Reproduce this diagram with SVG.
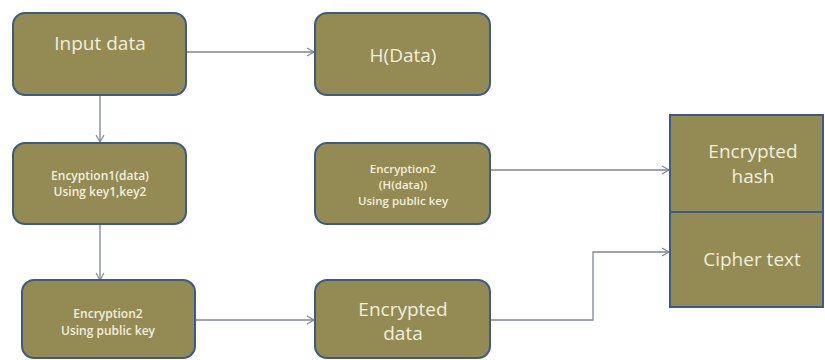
<svg xmlns="http://www.w3.org/2000/svg" width="825" height="360" viewBox="0 0 825 360">
<defs>
<marker id="arr" markerWidth="10" markerHeight="10" refX="8" refY="5" orient="auto" markerUnits="userSpaceOnUse">
<path d="M1,1 L8,5 L1,9" fill="none" stroke="#7d8596" stroke-width="1.2"/>
</marker>
<style>
.box{fill:#948a54;stroke:#3b5a84;stroke-width:2}
.t{font-family:"Open Sans","Liberation Sans",sans-serif;fill:#f2efdc;text-anchor:middle}
.big{font-size:19px}
.sm{font-size:12px;font-weight:600}
.xs{font-size:11.5px;font-weight:600}
.c{fill:none;stroke:#7d8596;stroke-width:1.3;marker-end:url(#arr)}
</style>
</defs>
<rect width="825" height="360" fill="#ffffff"/>
<g id="connectors">
<path class="c" d="M187,52 H314"/>
<path class="c" d="M100,95 V142"/>
<path class="c" d="M100,224 V280"/>
<path class="c" d="M195,320 H314"/>
<path class="c" d="M490,170 H669"/>
<path class="c" d="M490,320 H593 V252 H669"/>
</g>
<g id="input-data">
<rect class="box" x="13" y="13" width="173" height="82" rx="12"/>
<text class="t big" x="100" y="50">Input data</text>
</g>
<g id="h-data">
<rect class="box" x="315" y="13" width="175" height="82" rx="12"/>
<text class="t big" x="403" y="62">H(Data)</text>
</g>
<g id="encryption1">
<rect class="box" x="13" y="143" width="173" height="81" rx="12"/>
<text class="t sm" x="100" y="180">Encyption1(data)</text>
<text class="t sm" x="100" y="196">Using key1,key2</text>
</g>
<g id="encryption2-hash">
<rect class="box" x="315" y="143" width="175" height="81" rx="12"/>
<text class="t xs" x="403" y="173">Encryption2</text>
<text class="t xs" x="403" y="189">(H(data))</text>
<text class="t xs" x="403" y="205">Using public key</text>
</g>
<g id="encryption2-data">
<rect class="box" x="22" y="280" width="173" height="78" rx="12"/>
<text class="t sm" x="108" y="318">Encryption2</text>
<text class="t sm" x="108" y="335">Using public key</text>
</g>
<g id="encrypted-data">
<rect class="box" x="315" y="280" width="175" height="78" rx="12"/>
<text class="t big" x="403" y="316">Encrypted</text>
<text class="t big" x="403" y="340">data</text>
</g>
<g id="encrypted-hash">
<rect class="box" x="670" y="115" width="153" height="97"/>
<text class="t big" x="753" y="158">Encrypted</text>
<text class="t big" x="753" y="183">hash</text>
</g>
<g id="cipher-text">
<rect class="box" x="670" y="212" width="153" height="95"/>
<text class="t big" x="752" y="266">Cipher text</text>
</g>
</svg>
